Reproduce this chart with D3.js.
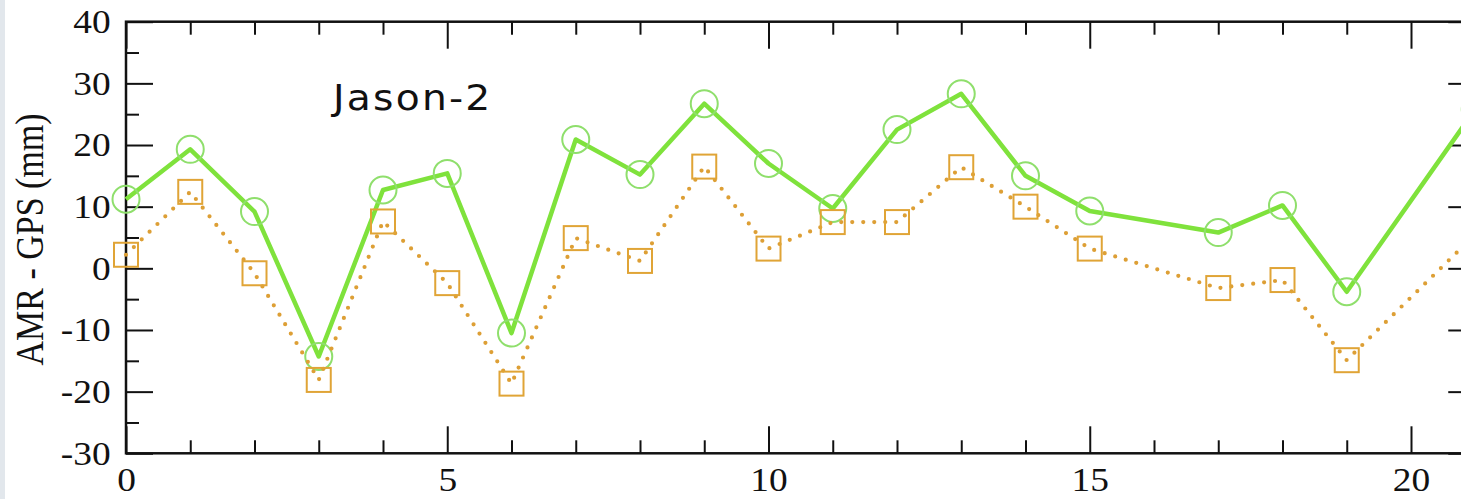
<!DOCTYPE html>
<html>
<head>
<meta charset="utf-8">
<script src="https://cdn.jsdelivr.net/npm/d3@7"></script>
<style>
  html, body { margin: 0; padding: 0; background: #ffffff; overflow: hidden; }
  svg { display: block; }
</style>
</head>
<body>
<script>
// Day index of each comparison
const days = [0, 1, 2, 3, 4, 5, 6, 7, 8, 9, 10, 11, 12, 13, 14, 15, 17, 18, 19, 21];
// AMR minus GPS wet path delay (mm), two processing versions
const solidSeries  = [11.2, 19.3, 9.2, -14.3, 12.7, 15.4, -10.5, 20.9, 15.2, 26.7, 17.0, 9.7, 22.5, 28.3, 15.0, 9.3, 5.8, 10.2, -3.8, 25.8];
const dottedSeries = [2.2, 12.4, -0.8, -18.1, 7.6, -2.4, -18.7, 4.9, 1.2, 16.5, 3.2, 7.5, 7.5, 16.4, 10.0, 3.2, -3.2, -1.9, -14.9, 5.5];

const xMajorTicks = [0, 5, 10, 15, 20];
const xMinorTicks = [1, 2, 3, 4, 6, 7, 8, 9, 11, 12, 13, 14, 16, 17, 18, 19];
const yMajorTicks = [-30, -20, -10, 0, 10, 20, 30, 40];
const yMinorTicks = [-25, -15, -5, 5, 15, 25, 35];

const yTitle = "AMR - GPS (mm)";
const panelLabel = "Jason-2";

const W = 1461, H = 499;
const plotL = 126, plotR = 1475.25, plotT = 21.7, plotB = 453.3;

const svg = d3.select("body").append("svg").attr("width", W).attr("height", H);

svg.append("rect").attr("width", W).attr("height", H).attr("fill", "#ffffff");
svg.append("rect").attr("x", 0).attr("y", 0).attr("width", 5).attr("height", H).attr("fill", "#e2e7ec");

const x = d3.scaleLinear().domain([0, 21]).range([plotL, plotR]);
const y = d3.scaleLinear().domain([-30, 40]).range([plotB, plotT]);

const majorLen = 27, minorLen = 13;
const labelFont = "Liberation Serif, Times New Roman, serif";
const tickFmt = d => String(d); // plain hyphen for negatives

function styleAxis(g) {
  g.attr("font-family", labelFont).attr("font-size", 34);
  g.select(".domain").remove();
  g.selectAll(".tick line").attr("stroke", "#111").attr("stroke-width", 2);
  g.selectAll(".tick text")
    .attr("fill", "#111")
    .attr("font-family", labelFont)
    .attr("transform", "scale(1.1,1)");
}

// Bottom axis
svg.append("g").attr("transform", `translate(0,${plotB})`)
  .call(d3.axisBottom(x).tickValues(xMajorTicks).tickSize(-majorLen).tickPadding(14).tickFormat(tickFmt))
  .call(styleAxis);
svg.append("g").attr("transform", `translate(0,${plotB})`)
  .call(d3.axisBottom(x).tickValues(xMinorTicks).tickSize(-minorLen).tickFormat(""))
  .call(styleAxis);

// Top axis
svg.append("g").attr("transform", `translate(0,${plotT})`)
  .call(d3.axisTop(x).tickValues(xMajorTicks).tickSize(-majorLen).tickFormat(""))
  .call(styleAxis);
svg.append("g").attr("transform", `translate(0,${plotT})`)
  .call(d3.axisTop(x).tickValues(xMinorTicks).tickSize(-minorLen).tickFormat(""))
  .call(styleAxis);

// Left axis
svg.append("g").attr("transform", `translate(${plotL},0)`)
  .call(d3.axisLeft(y).tickValues(yMajorTicks).tickSize(-majorLen).tickPadding(14).tickFormat(tickFmt))
  .call(styleAxis);
svg.append("g").attr("transform", `translate(${plotL},0)`)
  .call(d3.axisLeft(y).tickValues(yMinorTicks).tickSize(-minorLen).tickFormat(""))
  .call(styleAxis);

// Right axis
svg.append("g").attr("transform", `translate(${plotR},0)`)
  .call(d3.axisRight(y).tickValues(yMajorTicks).tickSize(-majorLen).tickFormat(""))
  .call(styleAxis);
svg.append("g").attr("transform", `translate(${plotR},0)`)
  .call(d3.axisRight(y).tickValues(yMinorTicks).tickSize(-minorLen).tickFormat(""))
  .call(styleAxis);

// Frame
svg.append("rect")
  .attr("x", plotL).attr("y", plotT)
  .attr("width", plotR - plotL).attr("height", plotB - plotT)
  .attr("fill", "none").attr("stroke", "#111").attr("stroke-width", 2.5);

// Y axis title
svg.append("text")
  .attr("transform", `translate(43,${(plotT + plotB) / 2 + 2}) rotate(-90) scale(1,1.15)`)
  .attr("text-anchor", "middle")
  .attr("fill", "#111")
  .attr("font-family", labelFont)
  .attr("font-size", 34)
  .text(yTitle);

// Panel label
svg.append("text")
  .attr("x", 333).attr("y", 110)
  .attr("transform", "translate(333,0) scale(1.12,1) translate(-333,0)")
  .attr("fill", "#111")
  .attr("font-family", "DejaVu Sans, sans-serif")
  .attr("font-size", 35)
  .style("letter-spacing", "2px")
  .text(panelLabel);

const solidPts = days.map((d, i) => [d, solidSeries[i]]);
const dottedPts = days.map((d, i) => [d, dottedSeries[i]]);
const line = d3.line().x(d => x(d[0])).y(d => y(d[1]));

// Solid green series
svg.append("path").datum(solidPts)
  .attr("d", line)
  .attr("fill", "none")
  .attr("stroke", "#7fe23c")
  .attr("stroke-width", 4.5)
  .attr("stroke-linejoin", "round");
svg.append("g").selectAll("circle").data(solidPts).join("circle")
  .attr("cx", d => x(d[0])).attr("cy", d => y(d[1]))
  .attr("r", 13.5)
  .attr("fill", "none")
  .attr("stroke", "#8fdf6c")
  .attr("stroke-width", 2);

// Dotted orange series
svg.append("path").datum(dottedPts)
  .attr("d", line)
  .attr("fill", "none")
  .attr("stroke", "#dd9f35")
  .attr("stroke-width", 4.2)
  .attr("stroke-linecap", "round")
  .attr("stroke-dasharray", "0 11");
svg.append("g").selectAll("rect").data(dottedPts).join("rect")
  .attr("x", d => x(d[0]) - 12).attr("y", d => y(d[1]) - 12)
  .attr("width", 24).attr("height", 24)
  .attr("fill", "none")
  .attr("stroke", "#e0a436")
  .attr("stroke-width", 2);
</script>
</body>
</html>
